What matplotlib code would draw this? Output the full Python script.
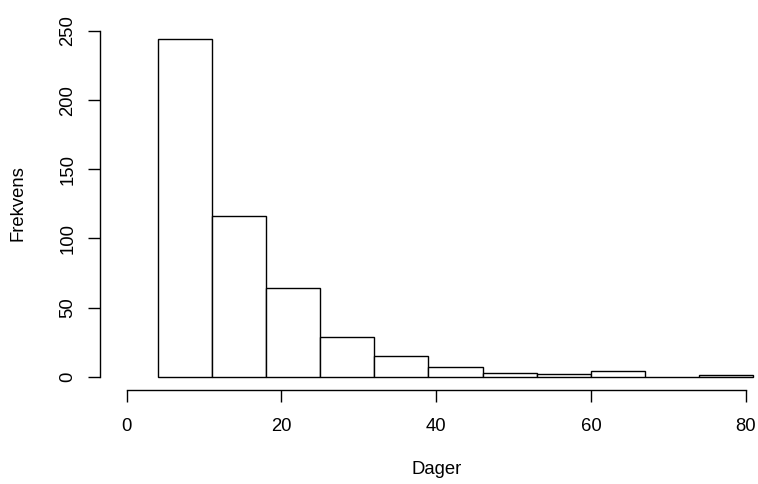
import matplotlib
matplotlib.use("Agg")
import matplotlib.pyplot as plt

plt.rcParams["font.family"] = ["Liberation Sans", "DejaVu Sans"]

# histogram of days (bins of width 7)
bin_edges = [4, 11, 18, 25, 32, 39, 46, 53, 60, 67, 74, 81]
counts = [244, 116, 64, 29, 15, 7, 3, 2, 4, 0, 1]
x_ticks = [0, 20, 40, 60, 80]
y_ticks = [0, 50, 100, 150, 200, 250]

fig = plt.figure(figsize=(7.58, 4.84), dpi=100)
ax = fig.add_axes([99.6 / 758, (484 - 390) / 484, (757.3 - 99.6) / 758, (390 - 24.1) / 484])

lefts = bin_edges[:-1]
widths = [b - a for a, b in zip(bin_edges[:-1], bin_edges[1:])]
ax.bar(lefts, counts, width=widths, align="edge", facecolor="white",
       edgecolor="black", linewidth=1.0, clip_on=False)

ax.set_xlim(-3.5, 81.5)
ax.set_ylim(-9.6, 255)

for s in ["top", "right"]:
    ax.spines[s].set_visible(False)
ax.spines["bottom"].set_bounds(0, 80)
ax.spines["left"].set_bounds(0, 250)
for s in ["bottom", "left"]:
    ax.spines[s].set_linewidth(1.0)

ax.set_xticks(x_ticks)
ax.set_yticks(y_ticks)
ax.set_yticklabels([str(v) for v in y_ticks], rotation=90, va="center")
ax.tick_params(axis="both", length=8.5, width=1.0, labelsize=13.3)
ax.tick_params(axis="x", pad=11.5)
ax.tick_params(axis="y", pad=8.2)

fig.text(437 / 758, 1 - 470 / 484, "Dager", ha="center", va="center", fontsize=13.3)
fig.text(18 / 758, 1 - 203 / 484, "Frekvens", ha="center", va="center",
         rotation=90, fontsize=13.3)

fig.savefig("out.png", dpi=100)
